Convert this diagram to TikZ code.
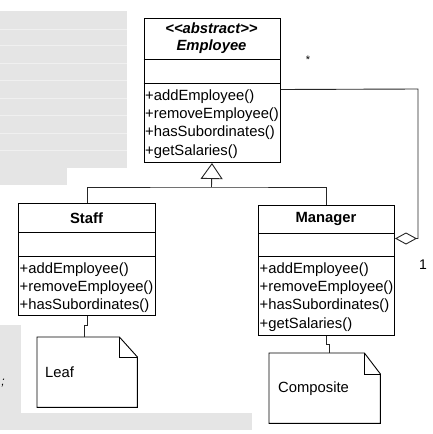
\documentclass[tikz,border=0pt]{standalone}
\usepackage{fontspec}
\setmainfont{Liberation Sans}
\usetikzlibrary{arrows.meta}
\begin{document}
\begin{tikzpicture}[x=1pt,y=-1pt,
  umlbox/.style={draw, line width=1pt, inner sep=0pt, anchor=north west, fill=white},
  sep/.style={line width=1pt},
  meth/.style={anchor=west, inner sep=0pt, font=\fontsize{14.8}{18}\selectfont},
  ttl/.style={inner sep=0pt, font=\fontsize{14.8}{18}\selectfont\bfseries},
  conn/.style={line width=0.9pt, draw=black!85},
  notebox/.style={inner sep=0pt, anchor=north west},
  noteline/.style={line width=0.9pt, line join=miter},
  lbl/.style={inner sep=0pt, font=\fontsize{14}{16}\selectfont},
  bg/.style={fill=black!10, draw=none},
  bgline/.style={draw=black!6, line width=0.6pt}]
\useasboundingbox (0,0) rectangle (433,434);
% background remnants
\fill[bg] (0,11) rectangle (127,168);
\fill[bg] (0,168) rectangle (67,185);
\fill[bg] (0,325) rectangle (21,413);
\fill[bg] (0,413) rectangle (252,430);
\foreach \yy in {29,45,63,80,98,115,133,150}
  \draw[bgline] (0,\yy) -- (127,\yy);
\node[inner sep=0pt, font=\fontsize{12}{14}\selectfont\itshape] (semi) at (3,383) {;};

% Employee
\node[umlbox, minimum width=136pt, minimum height=144pt] (emp) at (143.5,18) {};
\draw[sep] ([yshift=-41pt]emp.north west) -- ([yshift=-41pt]emp.north east);
\draw[sep] ([yshift=-65pt]emp.north west) -- ([yshift=-65pt]emp.north east);
\node[ttl, font=\fontsize{14.8}{18}\selectfont\bfseries\itshape] (empst) at (211.5,28) {<{}<abstract>{}>};
\node[ttl, font=\fontsize{14.8}{18}\selectfont\bfseries\itshape] (empn) at (211.5,47) {Employee};
\node[meth] (em1) at (145,96.5) {+addEmployee()};
\node[meth] (em2) at (145,114.8) {+removeEmployee()};
\node[meth] (em3) at (145,133.1) {+hasSubordinates()};
\node[meth] (em4) at (145,151.4) {+getSalaries()};

% Staff
\node[umlbox, minimum width=137pt, minimum height=112pt] (staff) at (18,203) {};
\draw[sep] ([yshift=-29pt]staff.north west) -- ([yshift=-29pt]staff.north east);
\draw[sep] ([yshift=-53pt]staff.north west) -- ([yshift=-53pt]staff.north east);
\node[ttl] (stn) at (86.5,218) {Staff};
\node[meth] (sm1) at (19.5,269.5) {+addEmployee()};
\node[meth] (sm2) at (19.5,287.8) {+removeEmployee()};
\node[meth] (sm3) at (19.5,306.1) {+hasSubordinates()};

% Manager
\node[umlbox, minimum width=136pt, minimum height=130pt] (mgr) at (258,205) {};
\draw[sep] ([yshift=-28pt]mgr.north west) -- ([yshift=-28pt]mgr.north east);
\draw[sep] ([yshift=-51pt]mgr.north west) -- ([yshift=-51pt]mgr.north east);
\node[ttl] (mgn) at (326,219) {Manager};
\node[meth] (mm1) at (259.5,269.5) {+addEmployee()};
\node[meth] (mm2) at (259.5,287.8) {+removeEmployee()};
\node[meth] (mm3) at (259.5,306.1) {+hasSubordinates()};
\node[meth] (mm4) at (259.5,324.4) {+getSalaries()};

% generalization
\coordinate (junc) at (211.5,187);
\draw[conn] (staff.north) |- (junc) -| (mgr.north);
\draw[conn, -{Triangle[open, width=22pt, length=16pt, line width=0.9pt]}] (junc) -- (emp.south);

% aggregation
\coordinate (aggc) at (418,89);
\draw[conn, {Diamond[open, width=12pt, length=22pt, line width=0.9pt]}-] ([yshift=32pt]mgr.east) -| (aggc) -- ([yshift=1pt]emp.east);
\node[inner sep=0pt, font=\fontsize{11}{12}\selectfont] (star) at (308,60) {*};
\node[lbl] (one) at (423,265) {1};

% notes
\node[notebox, minimum width=100pt, minimum height=70pt] (leaf) at (37,337) {};
\draw[noteline] (leaf.north west) -- ([xshift=-18pt]leaf.north east) -- ([yshift=-20pt]leaf.north east) -- (leaf.south east) -- (leaf.south west) -- cycle;
\draw[noteline] ([xshift=-18pt]leaf.north east) |- ([yshift=-20pt]leaf.north east);
\node[meth] (leaft) at (45,372) {Leaf};

\node[notebox, minimum width=111pt, minimum height=70pt] (comp) at (269,353) {};
\draw[noteline] (comp.north west) -- ([xshift=-16pt]comp.north east) -- ([yshift=-21pt]comp.north east) -- (comp.south east) -- (comp.south west) -- cycle;
\draw[noteline] ([xshift=-16pt]comp.north east) |- ([yshift=-21pt]comp.north east);
\node[meth] (compt) at (278,389) {Composite};

\draw[conn] (staff.south) -- ++(0,9) -| ([xshift=-3pt]leaf.north);
\draw[conn] (mgr.south) -- ++(0,8) -| ([xshift=4.5pt]comp.north);
\end{tikzpicture}
\end{document}
